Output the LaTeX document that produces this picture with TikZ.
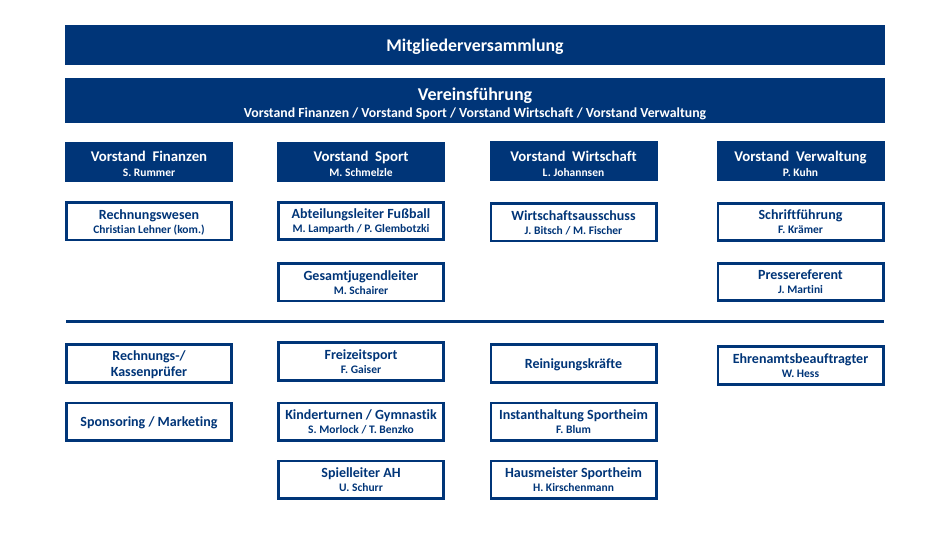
\documentclass[tikz,border=0pt]{standalone}
\usepackage{fontspec}
\setmainfont{Carlito}[Ligatures=NoCommon]
\definecolor{vblue}{RGB}{0,53,120}
\newcommand{\ttl}[1]{{\fontsize{14}{15}\selectfont #1}}
\newcommand{\vtl}[1]{{\fontsize{14.8}{15}\selectfont\rule{0pt}{14.5pt}#1}}
\newcommand{\sbt}[1]{{\fontsize{11.5}{15}\selectfont #1}}
\newcommand{\gap}{\hspace{0.45em}}
\begin{document}
\begin{tikzpicture}[x=1pt,y=-1pt,
  basebox/.style={inner sep=0pt, align=center, font=\bfseries\fontsize{11}{15}\selectfont, text depth=0pt},
  filled/.style={basebox, fill=vblue, text=white, minimum width=168pt, minimum height=40pt},
  outl/.style={basebox, draw=vblue, line width=2.6pt, fill=white, text=vblue, minimum width=165.4pt, minimum height=37.4pt},
  sepline/.style={draw=vblue, line width=2.6pt}
]
\useasboundingbox[fill=white] (0,0) rectangle (950,534);
% top bars
\node[filled, minimum width=820pt, minimum height=40pt] (mv) at (475,45) {\fontsize{17.8}{18}\selectfont Mitgliederversammlung};
\node[filled, minimum width=820pt, minimum height=45pt] (vf) at (475,100.5) {\fontsize{18}{18}\selectfont\rule{0pt}{16.5pt}Vereinsführung\\[1.7pt]\fontsize{13.8}{14}\selectfont Vorstand Finanzen / Vorstand Sport / Vorstand Wirtschaft / Vorstand Verwaltung};
% Vorstand row
\node[filled] (vfin) at (149,162) {\vtl{Vorstand\gap Finanzen}\\[0.3pt]\sbt{S. Rummer}};
\node[filled] (vsp) at (361,162) {\vtl{Vorstand\gap Sport}\\[0.3pt]\sbt{M. Schmelzle}};
\node[filled] (vwi) at (573.5,161.5) {\vtl{Vorstand\gap Wirtschaft}\\[0.3pt]\sbt{L. Johannsen}};
\node[filled] (vve) at (800.5,161.5) {\vtl{Vorstand\gap Verwaltung}\\[0.3pt]\sbt{P. Kuhn}};
% row 2
\node[outl] (rw) at (149,221.5) {\ttl{Rechnungswesen}\\[-1pt]\sbt{Christian Lehner (kom.)}};
\node[outl] (al) at (361,221) {\ttl{Abteilungsleiter Fußball}\\[-1pt]\sbt{M. Lamparth / P. Glembotzki}};
\node[outl] (wa) at (573.5,222.5) {\ttl{Wirtschaftsausschuss}\\[-1pt]\sbt{J. Bitsch / M. Fischer}};
\node[outl] (sf) at (800.5,222) {\ttl{Schriftführung}\\[-1pt]\sbt{F. Krämer}};
% row 3
\node[outl] (gj) at (361,282.5) {\ttl{Gesamtjugendleiter}\\[-1pt]\sbt{M. Schairer}};
\node[outl] (pr) at (800.5,282) {\ttl{Pressereferent}\\[-1pt]\sbt{J. Martini}};
% separator
\coordinate (sl) at (66,321.5);
\coordinate (sr) at (884,321.5);
\draw[sepline] (sl) -- (sr);
% lower row 1
\node[outl] (kp) at (149,363.5) {\ttl{Rechnungs-/}\\[1.7pt]\ttl{Kassenprüfer}};
\node[outl] (fz) at (361,361.5) {\ttl{Freizeitsport}\\[-1pt]\sbt{F. Gaiser}};
\node[outl] (rk) at (573.5,363.5) {\ttl{Reinigungskräfte}};
\node[outl] (eb) at (800.5,365.5) {\ttl{Ehrenamtsbeauftragter}\\[-1pt]\sbt{W. Hess}};
% lower row 2
\node[outl] (sm) at (149,421.5) {\ttl{Sponsoring / Marketing}};
\node[outl] (kt) at (361,421.5) {\ttl{Kinderturnen / Gymnastik}\\[-1pt]\sbt{S. Morlock / T. Benzko}};
\node[outl] (is) at (573.5,421.5) {\ttl{Instanthaltung Sportheim}\\[-1pt]\sbt{F. Blum}};
% lower row 3
\node[outl] (sa) at (361,479.5) {\ttl{Spielleiter AH}\\[-1pt]\sbt{U. Schurr}};
\node[outl] (hm) at (573.5,479.5) {\ttl{Hausmeister Sportheim}\\[-1pt]\sbt{H. Kirschenmann}};
\end{tikzpicture}
\end{document}
